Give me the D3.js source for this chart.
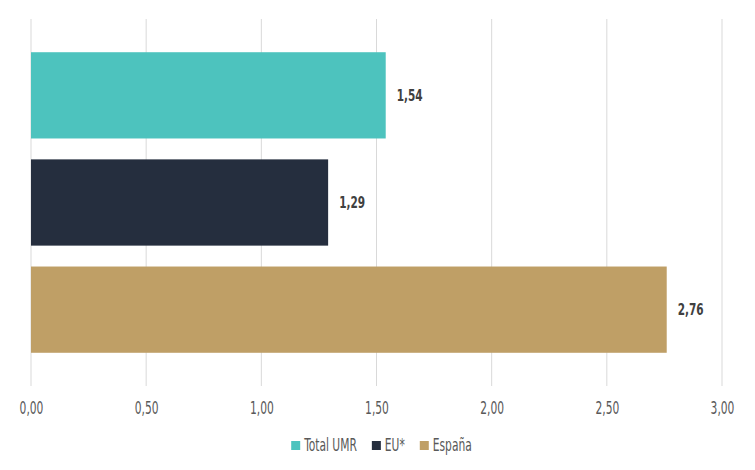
<!DOCTYPE html>
<html>
<head>
<meta charset="utf-8">
<script src="https://cdn.jsdelivr.net/npm/d3@7"></script>
<style>
  body { margin: 0; background: #fff; }
  text { font-family: "DejaVu Sans Condensed", "Liberation Sans Narrow", sans-serif; }
</style>
</head>
<body>
<div id="chart"></div>
<script>
// data
const categories = ["Total UMR", "EU*", "España"];
const values = [1.54, 1.29, 2.76];
const colors = ["#4dc3be", "#252e3e", "#bf9f66"];
const xTicks = [0, 0.5, 1, 1.5, 2, 2.5, 3];

const width = 755, height = 470;
const margin = {top: 19, right: 33, bottom: 84, left: 31};
const squeeze = 0.7; // narrow the glyphs to mimic the condensed font

const svg = d3.select("#chart")
  .append("svg")
    .attr("width", width)
    .attr("height", height);

const fmt = v => d3.format(".2f")(v).replace(".", ",");

// x scale
const x = d3.scaleLinear()
  .domain([0, 3])
  .range([margin.left, width - margin.right]);

// y scale
const y = d3.scaleBand()
  .domain(categories)
  .range([margin.top, height - margin.bottom])
  .paddingInner(0.195)
  .paddingOuter(0.31);

// gridlines
svg.append("g")
  .selectAll("line")
  .data(xTicks)
  .enter()
  .append("line")
    .attr("x1", d => x(d))
    .attr("x2", d => x(d))
    .attr("y1", margin.top)
    .attr("y2", height - margin.bottom)
    .attr("stroke", "#d9d9d9")
    .attr("stroke-width", 1);

// x axis labels
const xAxis = d3.axisBottom(x)
  .tickValues(xTicks)
  .tickSize(0)
  .tickPadding(0)
  .tickFormat(fmt);

svg.append("g")
  .attr("class", "x-axis")
  .attr("transform", "translate(0,408)")
  .call(xAxis)
  .call(g => g.select(".domain").remove())
  .selectAll("text")
    .attr("dy", "0.36em")
    .attr("transform", "scale(" + squeeze + ",1)")
    .style("font-size", "17px")
    .style("fill", "#595959");

// bars
svg.selectAll("rect.bar")
  .data(categories)
  .enter()
  .append("rect")
    .attr("class", "bar")
    .attr("x", x(0))
    .attr("y", d => y(d))
    .attr("width", (d, i) => x(values[i]) - x(0))
    .attr("height", y.bandwidth())
    .attr("fill", (d, i) => colors[i]);

// value labels
svg.selectAll("text.val")
  .data(categories)
  .enter()
  .append("text")
    .attr("class", "val")
    .attr("transform", (d, i) => "translate(" + (x(values[i]) + 11) + "," +
      (y(d) + y.bandwidth() / 2) + ") scale(0.78,1)")
    .attr("dy", "0.36em")
    .style("font-size", "15px")
    .style("font-weight", "bold")
    .style("fill", "#404040")
    .text((d, i) => fmt(values[i]));

// legend
const legend = svg.append("g").attr("class", "legend");
let lx = 0;
categories.forEach((c, i) => {
  const item = legend.append("g").attr("transform", "translate(" + lx + ",0)");
  item.append("rect")
    .attr("x", 0).attr("y", -4)
    .attr("width", 9).attr("height", 9)
    .attr("fill", colors[i]);
  const t = item.append("text")
    .attr("transform", "translate(13,0) scale(" + squeeze + ",1)")
    .attr("dy", "0.36em")
    .style("font-size", "17px")
    .style("fill", "#595959")
    .text(c);
  lx += 13 + t.node().getComputedTextLength() * squeeze + 15;
});
const lw = lx - 15;
legend.attr("transform", "translate(" + ((width - lw) / 2 + 4) + ",445)");
</script>
</body>
</html>
